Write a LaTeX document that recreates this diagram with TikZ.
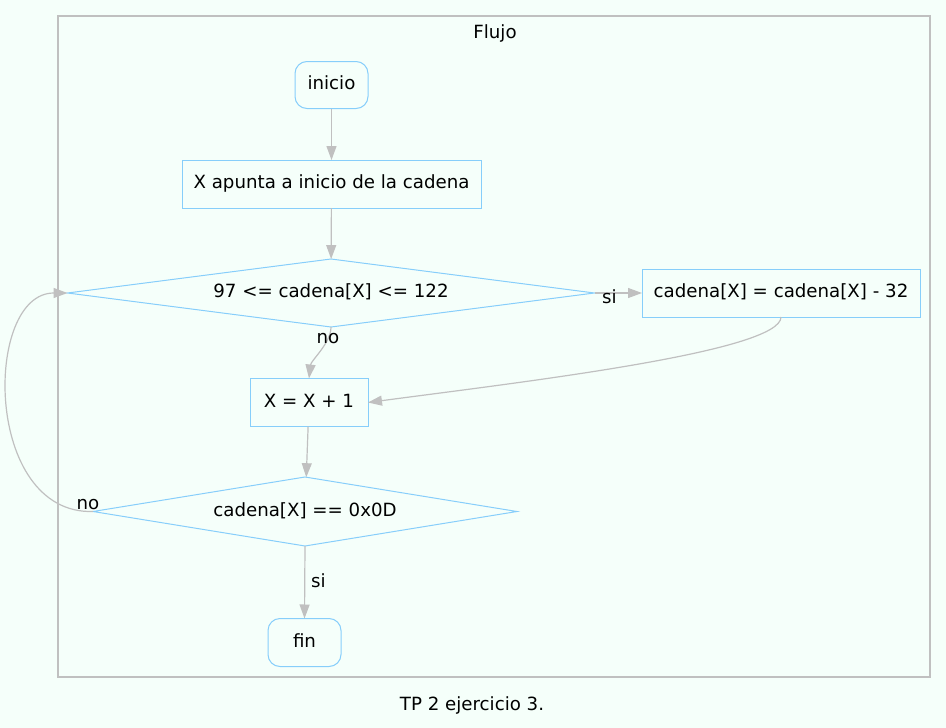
\documentclass[tikz,border=0pt]{standalone}
\usepackage{fontspec}
\setmainfont{DejaVu Sans}
\usetikzlibrary{shapes.geometric,arrows.meta}
\definecolor{bgmint}{HTML}{F5FFFA}
\definecolor{nodeblue}{HTML}{87CEFA}
\definecolor{edgegray}{HTML}{C0C0C0}
\newcommand{\gvfs}{\fontsize{18.2pt}{22pt}\selectfont}
\begin{document}
\begin{tikzpicture}[x=1pt,y=-1pt,
  box/.style={draw=nodeblue, line width=1pt, inner sep=0pt, outer sep=0pt, font=\gvfs, text height=13pt, text depth=4pt},
  rbox/.style={box, rounded corners=12pt},
  dec/.style={box, diamond, aspect=7.75},
  edge/.style={draw=edgegray, line width=1.2pt, -{Triangle[length=14pt,width=10pt]}},
  lbl/.style={anchor=base, inner sep=0pt, font=\gvfs}]
\fill[bgmint] (0,0) rectangle (946,728);
\useasboundingbox (0,0) rectangle (946,728);
\node[draw=edgegray, line width=1.2pt, inner sep=0pt, minimum width=872pt, minimum height=661pt] (cluster) at (494,346.5) {};
\node[rbox, minimum width=73pt, minimum height=47pt] (inicio) at (331.5,85) {inicio};
\node[box, minimum width=299pt, minimum height=48pt] (apunta) at (331.5,184) {X apunta a inicio de la cadena};
\node[dec, minimum width=527pt, minimum height=68pt] (c1) at (331,293) {97 <= cadena[X] <= 122};
\node[box, minimum width=278pt, minimum height=48pt] (resta) at (781,293) {cadena[X] = cadena[X] - 32};
\node[box, minimum width=118pt, minimum height=48pt] (inc) at (309,402.5) {X = X + 1};
\node[dec, minimum width=424pt, minimum height=69pt] (c2) at (305,511.5) {cadena[X] == 0x0D};
\node[rbox, minimum width=73pt, minimum height=48pt] (fin) at (304.5,642.5) {fin};
\draw[edge] (inicio) -- (apunta);
\draw[edge] (apunta) -- (c1);
\draw[edge] (c1.east) -- (resta.west);
\draw[edge] (c1.south) .. controls +(0,16) and +(2,-18) .. (inc.north);
\draw[edge] (resta.south) .. controls +(0,35) and +(150,-20) .. (inc.east);
\draw[edge] (inc) -- (c2);
\draw[edge] (c2.south) -- (fin.north);
\draw[edge] (c2.west) .. controls +(-110,3) and +(-84,0) .. (c1.west);
\node[lbl] (l1) at (328,343) {no};
\node[lbl] (l2) at (609.5,303) {si};
\node[lbl] (l3) at (88,509) {no};
\node[lbl] (l4) at (318.5,587) {si};
\node[lbl] (title) at (495,38) {Flujo};
\node[lbl] (cap) at (472,710) {TP 2 ejercicio 3.};
\end{tikzpicture}
\end{document}
